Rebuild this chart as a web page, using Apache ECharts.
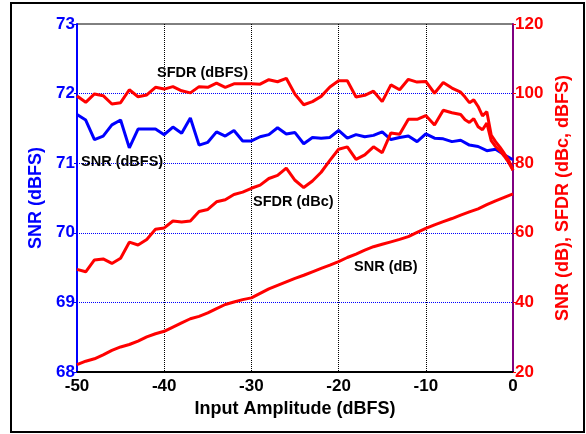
<!DOCTYPE html>
<html>
<head>
<meta charset="utf-8">
<script src="https://cdn.jsdelivr.net/npm/echarts@6/dist/echarts.min.js"></script>
<style>
html,body{margin:0;padding:0;background:#fff;}
#c{width:586px;height:434px;}
</style>
</head>
<body>
<div id="c"></div>
<script>
// Input amplitude (dBFS) for the SNR curves
const xSnr = [-50,-49,-48,-47,-46,-45,-44,-43,-42,-41,
  -40,-39,-38,-37,-36,-35,-34,-33,-32,-31,
  -30,-29,-28,-27,-26,-25,-24,-23,-22,-21,
  -20,-19,-18,-17,-16,-15,-14,-13,-12,-11,
  -10,-9,-8,-7,-6,-5,-4,-3,-2,-1,0];
// Input amplitude (dBFS) for the SFDR curves (finer near full scale)
const xSfdr = [-50,-49,-48,-47,-46,-45,-44,-43,-42,-41,
  -40,-39,-38,-37,-36,-35,-34,-33,-32,-31,
  -30,-29,-28,-27,-26,-25,-24,-23,-22,-21,
  -20,-19,-18,-17,-16,-15,-14,-13,-12,-11,
  -10,-9,-8,-7,-6,-5.5,-5,-4.5,-4,-3.5,-3,-2.5,-2,-1.5,-1,-0.5,0];

// SNR (dBFS), left axis
const snrDbfs = [71.70,71.62,71.34,71.39,71.55,71.62,71.22,71.49,71.49,71.49,
  71.41,71.52,71.43,71.65,71.26,71.30,71.45,71.39,71.47,71.32,
  71.32,71.38,71.41,71.51,71.42,71.44,71.28,71.37,71.36,71.37,
  71.47,71.36,71.41,71.38,71.40,71.45,71.34,71.37,71.39,71.31,
  71.42,71.36,71.35,71.31,71.33,71.26,71.24,71.18,71.20,71.12,71.05];
// SNR (dB), right axis
const snrDb = [22.1,23.1,23.8,24.9,26.2,27.2,27.9,28.9,30.1,31.0,
  31.7,32.9,34.1,35.3,36.0,37.0,38.2,39.4,40.1,40.8,
  41.3,42.6,43.9,44.9,45.9,46.9,47.8,48.8,49.8,50.7,
  51.7,52.9,53.9,55.0,56.0,56.7,57.4,58.1,58.9,60.1,
  61.3,62.3,63.2,64.1,65.1,66.0,66.9,68.1,69.2,70.2,71.2];
// SFDR (dBFS), right axis
const sfdrDbfs = [99.3,97.5,99.9,99.4,97.0,97.4,101.1,99.1,99.6,101.8,
  101.3,102.0,100.8,100.2,102.0,101.8,103.0,101.8,102.8,102.8,
  102.8,102.7,104.0,103.4,104.4,99.8,96.8,97.7,99.2,101.9,
  103.7,103.7,99.0,99.5,100.7,97.7,102.5,101.1,104.1,103.3,
  103.5,100.1,103.2,101.6,100.4,99.0,97.4,98.2,96.3,93.6,94.8,88.1,86.2,84.6,82.8,80.9,78.0];
// SFDR (dBc), right axis
const sfdrDbc = [49.5,48.8,52.2,52.5,51.2,52.7,57.3,56.5,58.1,61.0,
  61.4,63.4,63.1,63.4,66.1,66.7,68.9,69.5,71.0,71.7,
  72.8,73.7,75.6,76.5,78.6,75.1,73.0,74.9,77.4,80.8,
  84.0,84.7,81.1,82.4,84.7,83.0,88.7,88.3,92.6,92.6,
  93.7,91.0,95.2,94.5,94.0,92.5,91.7,92.8,90.5,89.6,91.5,86.5,84.8,83.6,82.0,80.2,78.0];

const xTicks = [-50,-40,-30,-20,-10,0];
const leftTicks = [68,69,70,71,72,73];
const rightTicks = [20,40,60,80,100,120];

function pairs(xs, ys){ return xs.map((x,i)=>[x, ys[i]]); }

const FONT = 'Liberation Sans, Arial, sans-serif';
const BLUE = '#0000ff', RED = '#ff0000', PURPLE = '#800080';

const chart = echarts.init(document.getElementById('c'), null, {renderer:'canvas'});
chart.setOption({
  animation:false,
  backgroundColor:'#fff',
  grid:{left:77, right:73, top:24, bottom:62, show:true, borderColor:'#000', borderWidth:1},
  xAxis:{
    type:'value', min:xTicks[0], max:xTicks[xTicks.length-1], interval:10,
    axisLine:{show:true, onZero:false, lineStyle:{color:'#000', width:2}},
    axisTick:{show:false},
    axisLabel:{color:'#000', fontSize:17, fontWeight:'bold', fontFamily:FONT, margin:6},
    splitLine:{show:true, showMinLine:false, showMaxLine:false, lineStyle:{color:'#000', type:'dotted', width:1}},
    name:'Input Amplitude (dBFS)', nameLocation:'middle', nameGap:28,
    nameTextStyle:{color:'#000', fontSize:18, fontWeight:'bold', fontFamily:FONT}
  },
  yAxis:[{
    type:'value', position:'left', min:leftTicks[0], max:leftTicks[leftTicks.length-1], interval:1,
    axisLine:{show:true, onZero:false, lineStyle:{color:BLUE, width:2}},
    axisTick:{show:true, length:3, lineStyle:{color:BLUE, width:1}},
    axisLabel:{color:BLUE, fontSize:17, fontWeight:'bold', fontFamily:FONT, margin:2},
    splitLine:{show:true, showMinLine:false, showMaxLine:false, lineStyle:{color:BLUE, type:'dotted', width:1}},
    name:'SNR (dBFS)', nameLocation:'middle', nameGap:30, nameRotate:90,
    nameTextStyle:{color:BLUE, fontSize:18, fontWeight:'bold', fontFamily:FONT}
  },{
    type:'value', position:'right', min:rightTicks[0], max:rightTicks[rightTicks.length-1], interval:20,
    axisLine:{show:true, onZero:false, lineStyle:{color:PURPLE, width:2}},
    axisTick:{show:true, length:3, lineStyle:{color:RED, width:1}},
    axisLabel:{color:RED, fontSize:17, fontWeight:'bold', fontFamily:FONT, margin:2},
    splitLine:{show:false},
    name:'SNR (dB), SFDR (dBc, dBFS)', nameLocation:'middle', nameGap:33, nameRotate:90,
    nameTextStyle:{color:RED, fontSize:18, fontWeight:'bold', fontFamily:FONT}
  }],
  series:[
    {name:'SNR (dB)', type:'line', yAxisIndex:1, data:pairs(xSnr, snrDb), showSymbol:false, symbol:'none',
      lineStyle:{color:RED, width:3}, z:3},
    {name:'SFDR (dBc)', type:'line', yAxisIndex:1, data:pairs(xSfdr, sfdrDbc), showSymbol:false, symbol:'none',
      lineStyle:{color:RED, width:3}, z:3},
    {name:'SFDR (dBFS)', type:'line', yAxisIndex:1, data:pairs(xSfdr, sfdrDbfs), showSymbol:false, symbol:'none',
      lineStyle:{color:RED, width:3}, z:3},
    {name:'SNR (dBFS)', type:'line', yAxisIndex:0, data:pairs(xSnr, snrDbfs), showSymbol:false, symbol:'none',
      lineStyle:{color:BLUE, width:3}, z:2}
  ],
  graphic:[
    {type:'rect', shape:{x:11, y:3, width:573, height:429}, style:{fill:null, stroke:'#000', lineWidth:2}, z:100},
    {type:'text', style:{text:'SFDR (dBFS)', x:157, y:73, fill:'#000', font:'bold 14.5px ' + FONT, verticalAlign:'middle'}, z:100},
    {type:'text', style:{text:'SNR (dBFS)', x:81, y:162, fill:'#000', font:'bold 14.5px ' + FONT, verticalAlign:'middle'}, z:100},
    {type:'text', style:{text:'SFDR (dBc)', x:253, y:202, fill:'#000', font:'bold 14.5px ' + FONT, verticalAlign:'middle'}, z:100},
    {type:'text', style:{text:'SNR (dB)', x:354, y:267, fill:'#000', font:'bold 14.5px ' + FONT, verticalAlign:'middle'}, z:100}
  ]
});
</script>
</body>
</html>
